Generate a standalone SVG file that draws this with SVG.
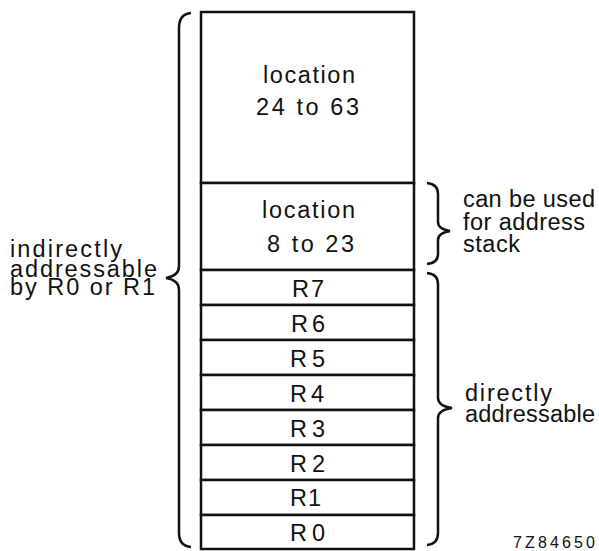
<svg xmlns="http://www.w3.org/2000/svg" width="599" height="551" viewBox="0 0 599 551">
<style>
.cell{fill:#fff;stroke:#111;stroke-width:2.5}
.t{font-family:"Liberation Sans",Arial,sans-serif;font-size:23.5px;fill:#111}
.s{font-family:"Liberation Sans",Arial,sans-serif;font-size:16px;fill:#111}
.br{fill:none;stroke:#111;stroke-width:2.5;stroke-linejoin:miter}
</style>
<rect width="599" height="551" fill="#fff"/>
<g id="loc24-63"><rect class="cell" x="201" y="12" width="213" height="171"/>
<text class="t" x="263" y="83" textLength="92" lengthAdjust="spacing">location</text>
<text class="t" x="256" y="115" textLength="103" lengthAdjust="spacing">24 to 63</text></g>
<g id="loc8-23"><rect class="cell" x="201" y="183" width="213" height="87"/>
<text class="t" x="262" y="218" textLength="93" lengthAdjust="spacing">location</text>
<text class="t" x="267" y="252" textLength="87" lengthAdjust="spacing">8 to 23</text></g>
<g id="R7"><rect class="cell" x="201" y="270" width="213" height="35"/><text class="t" x="292" y="297" textLength="32" lengthAdjust="spacing">R7</text></g>
<g id="R6"><rect class="cell" x="201" y="305" width="213" height="35"/><text class="t" x="291" y="332" textLength="34" lengthAdjust="spacing">R6</text></g>
<g id="R5"><rect class="cell" x="201" y="340" width="213" height="35"/><text class="t" x="290" y="367" textLength="35" lengthAdjust="spacing">R5</text></g>
<g id="R4"><rect class="cell" x="201" y="375" width="213" height="35"/><text class="t" x="290" y="402" textLength="34" lengthAdjust="spacing">R4</text></g>
<g id="R3"><rect class="cell" x="201" y="410" width="213" height="35"/><text class="t" x="290" y="437" textLength="35" lengthAdjust="spacing">R3</text></g>
<g id="R2"><rect class="cell" x="201" y="445" width="213" height="35"/><text class="t" x="290" y="472" textLength="35" lengthAdjust="spacing">R2</text></g>
<g id="R1"><rect class="cell" x="201" y="480" width="213" height="35"/><text class="t" x="290" y="506" textLength="31" lengthAdjust="spacing">R1</text></g>
<g id="R0"><rect class="cell" x="201" y="515" width="213" height="34"/><text class="t" x="290" y="541" textLength="35" lengthAdjust="spacing">R0</text></g>
<g id="label-indirect">
<text class="t" x="10" y="257" textLength="112" lengthAdjust="spacing">indirectly</text>
<text class="t" x="10" y="277" textLength="147" lengthAdjust="spacing">addressable</text>
<text class="t" x="10" y="295" textLength="145" lengthAdjust="spacing">by R0 or R1</text></g>
<g id="label-stack">
<text class="t" x="463" y="207" textLength="132" lengthAdjust="spacing">can be used</text>
<text class="t" x="463" y="230" textLength="122" lengthAdjust="spacing">for address</text>
<text class="t" x="463" y="252" textLength="57" lengthAdjust="spacing">stack</text></g>
<g id="label-direct">
<text class="t" x="465" y="401" textLength="87" lengthAdjust="spacing">directly</text>
<text class="t" x="465" y="422" textLength="130" lengthAdjust="spacing">addressable</text></g>
<g id="figcode"><text class="s" x="513" y="548" textLength="82" lengthAdjust="spacing">7Z84650</text></g>
<g id="connectors">
<path class="br" d="M191,13 Q179,14 179,28 L179,266 Q179,276 166,278 Q179,280 179,290 L179,533 Q179,546 191,547"/>
<path class="br" d="M427,183 Q438,184 438,194 L438,222 Q438,229 450,231 Q438,233 438,240 L438,254 Q438,263 427,264"/>
<path class="br" d="M427,273 Q438,274 438,284 L438,398 Q438,406 452,408 Q438,410 438,418 L438,533 Q438,544 427,545"/>
</g>
</svg>
